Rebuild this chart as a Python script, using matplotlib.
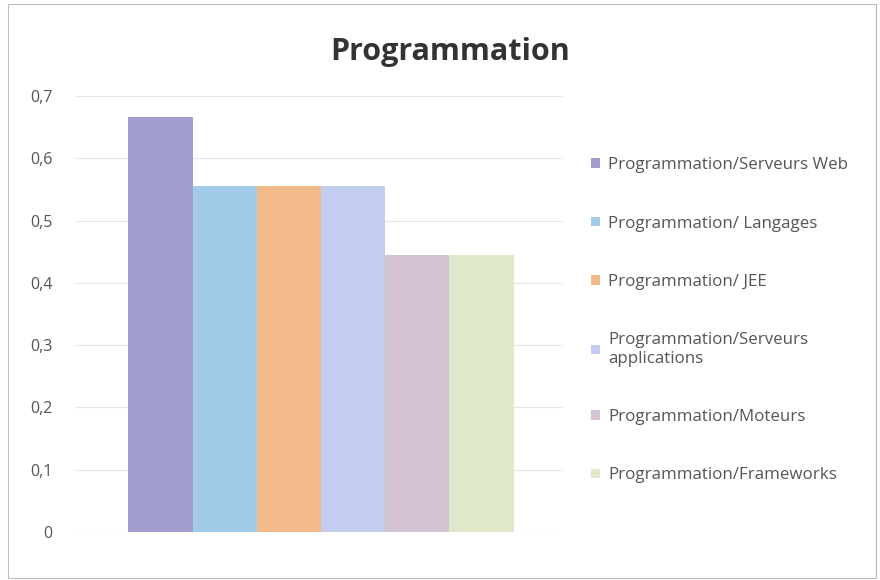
import matplotlib.pyplot as plt
from matplotlib.patches import Rectangle
from matplotlib.ticker import FuncFormatter

# data
categories = ["Programmation/Serveurs Web", "Programmation/ Langages",
              "Programmation/ JEE", "Programmation/Serveurs\napplications",
              "Programmation/Moteurs", "Programmation/Frameworks"]
values = [0.667, 0.556, 0.556, 0.556, 0.444, 0.444]
colors = ["#a19dcc", "#a2cbe7", "#f1ba88", "#c3cdf0", "#d4c3d3", "#dfe9c9"]
yticks = [0, 0.1, 0.2, 0.3, 0.4, 0.5, 0.6, 0.7]

plt.rcParams['font.family'] = ['Open Sans', 'DejaVu Sans']

fig = plt.figure(figsize=(8.8, 5.8), dpi=100)
ax = fig.add_axes([75 / 880, 48 / 580, 488 / 880, 436 / 580])

for i, (c, v, col) in enumerate(zip(categories, values, colors)):
    ax.bar(i, v, width=1.0, color=col, label=c, zorder=2)

ax.set_xlim(-1.33, 6.27)
ax.set_ylim(0, 0.7)
ax.set_yticks(yticks)
ax.yaxis.set_major_formatter(FuncFormatter(lambda v, p: ("%g" % round(v, 1)).replace(".", ",")))
ax.tick_params(axis='y', length=0, labelsize=11.5, labelcolor="#555555", pad=16)
ax.set_xticks([])
ax.grid(axis='y', color="#e6e6e6", linewidth=0.8, zorder=0)
for s in ax.spines.values():
    s.set_visible(False)

fig.text(450 / 880, 1 - 52 / 580, "Programmation", ha='center', va='center',
         fontsize=22, fontweight='bold', color="#333333")

leg = ax.legend(loc='upper left', bbox_to_anchor=(576 / 880, 1 - 142 / 580),
                bbox_transform=fig.transFigure, frameon=False,
                fontsize=12.2, labelspacing=2.5, handlelength=0.5,
                handleheight=0.5, handletextpad=0.5)
for t in leg.get_texts():
    t.set_color("#555555")

# outer chart border
fig.patches.append(Rectangle((8 / 880, 2 / 580), 868 / 880, 574 / 580,
                             transform=fig.transFigure, fill=False,
                             edgecolor="#bbbbbb", linewidth=0.8))

fig.savefig("out.png", dpi=100)
